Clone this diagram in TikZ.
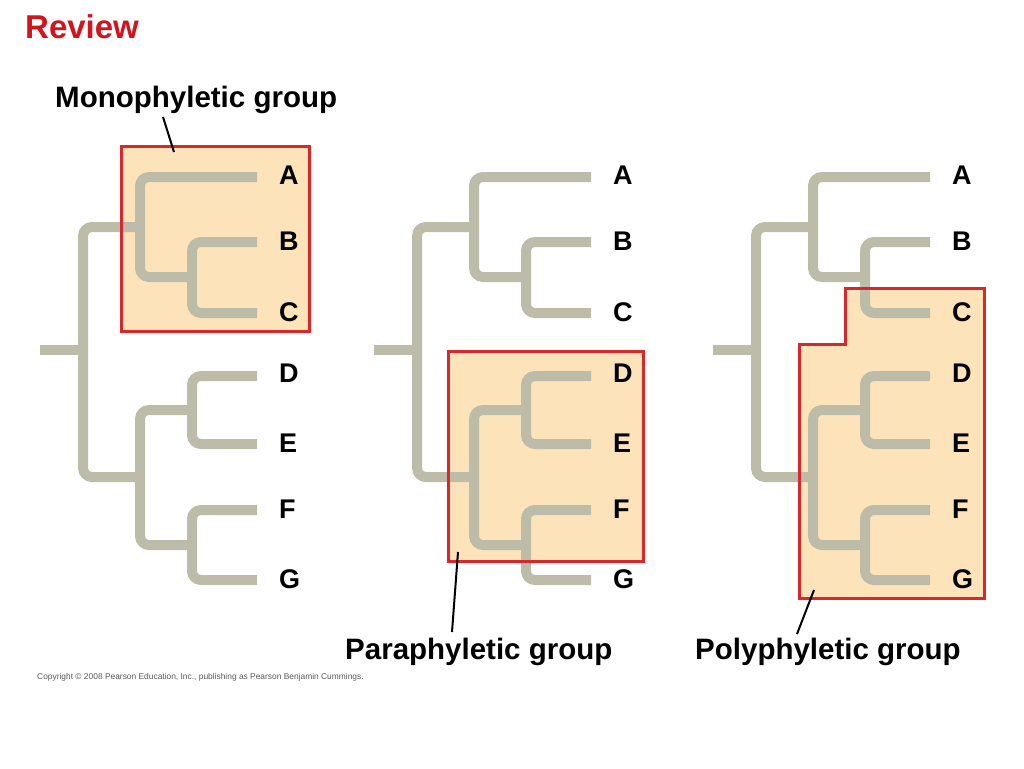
\documentclass[tikz,border=0pt]{standalone}
\usepackage{fontspec}
\setmainfont{Liberation Sans}
\definecolor{branchc}{RGB}{189,188,168}
\definecolor{boxfill}{RGB}{253,227,185}
\definecolor{boxred}{RGB}{217,40,44}
\definecolor{titlered}{RGB}{210,20,30}
\tikzset{
  branch/.style={draw=branchc, line width=10pt, rounded corners=9pt},
  tiplabel/.style={anchor=base west, inner sep=0pt, font=\fontsize{27}{30}\selectfont\bfseries},
  grouplabel/.style={anchor=base west, inner sep=0pt, font=\fontsize{29.5}{32}\selectfont\bfseries},
  groupfill/.style={fill=boxfill, draw=none},
  groupborder/.style={draw=boxred, line width=3pt},
  leader/.style={draw=black, line width=2pt},
}
\newcommand{\phylotree}[1]{%
  \coordinate (#1root) at (40,350);
  \coordinate (#1r) at (83,350);
  \coordinate (#1abc) at (140,227);
  \coordinate (#1defg) at (140,477);
  \coordinate (#1bc) at (192,277);
  \coordinate (#1de) at (192,410);
  \coordinate (#1fg) at (192,545);
  \coordinate (#1A) at (257,177);
  \coordinate (#1B) at (257,242);
  \coordinate (#1C) at (257,313);
  \coordinate (#1D) at (257,376);
  \coordinate (#1E) at (257,444);
  \coordinate (#1F) at (257,510);
  \coordinate (#1G) at (257,580);
  \draw[branch] (#1root) -- (#1r);
  \draw[branch] (#1abc) -| (#1r) |- (#1defg);
  \draw[branch] (#1A) -| (#1abc) |- (#1bc);
  \draw[branch] (#1B) -| (#1bc) |- (#1C);
  \draw[branch] (#1de) -| (#1defg) |- (#1fg);
  \draw[branch] (#1D) -| (#1de) |- (#1E);
  \draw[branch] (#1F) -| (#1fg) |- (#1G);
  \node[tiplabel] (#1lA) at (279,184) {A};
  \node[tiplabel] (#1lB) at (279,250) {B};
  \node[tiplabel] (#1lC) at (279,321) {C};
  \node[tiplabel] (#1lD) at (279,382) {D};
  \node[tiplabel] (#1lE) at (279,452) {E};
  \node[tiplabel] (#1lF) at (279,518) {F};
  \node[tiplabel] (#1lG) at (279,588) {G};
}
\begin{document}
\begin{tikzpicture}[x=1pt,y=-1pt]
\useasboundingbox[fill=white] (0,0) rectangle (1024,768);
% title
\node[anchor=base west, inner sep=0pt, text=titlered, font=\fontsize{33}{35}\selectfont\bfseries] (title) at (25,38) {Review};
% group fills
\path[groupfill] (121,146) rectangle (309,331);
\path[groupfill] (448,351) rectangle (643,561);
\path[groupfill] (845,288) -- (984,288) -- (984,598) -- (799,598) -- (799,344) -- (845,344) -- cycle;
% trees
\begin{scope}\phylotree{t1}\end{scope}
\begin{scope}[xshift=334pt]\phylotree{t2}\end{scope}
\begin{scope}[xshift=673pt]\phylotree{t3}\end{scope}
% group borders
\draw[groupborder] (121,146) rectangle (309,331);
\draw[groupborder] (448,351) rectangle (643,561);
\draw[groupborder] (845,288) -- (984,288) -- (984,598) -- (799,598) -- (799,344) -- (845,344) -- cycle;
% group labels
\node[grouplabel] (mono) at (55,107) {Monophyletic group};
\node[grouplabel] (para) at (345,659) {Paraphyletic group};
\node[grouplabel] (poly) at (695,659) {Polyphyletic group};
% leaders
\coordinate (monoA) at (163,117);
\coordinate (monoB) at (174,152);
\coordinate (paraA) at (452,632);
\coordinate (paraB) at (458,552);
\coordinate (polyA) at (797,634);
\coordinate (polyB) at (814,590);
\draw[leader] (monoA) -- (monoB);
\draw[leader] (paraA) -- (paraB);
\draw[leader] (polyA) -- (polyB);
% copyright
\node[anchor=base west, inner sep=0pt, text=black!65, font=\fontsize{8.4}{10}\selectfont] (copy) at (37,679) {Copyright \textcopyright{} 2008 Pearson Education, Inc., publishing as Pearson Benjamin Cummings.};
\end{tikzpicture}
\end{document}
